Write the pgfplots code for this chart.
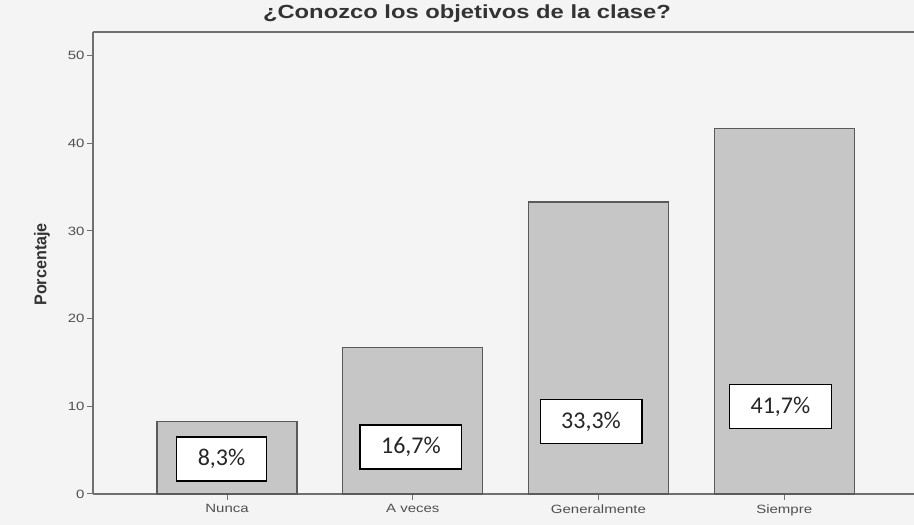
\documentclass[border=0pt]{standalone}
\usepackage{fontspec}
\setmainfont{Liberation Sans}
\newfontfamily\wide[FakeStretch=1.25]{Liberation Sans}
\newfontfamily\narrow[FakeStretch=0.95]{Liberation Sans}
\newfontfamily\carlito{Carlito}
\usepackage{pgfplots}
\pgfplotsset{compat=1.18}
\definecolor{bg}{HTML}{F4F4F4}
\definecolor{barfill}{HTML}{C6C6C6}
\definecolor{bardraw}{HTML}{5A5A5A}
\definecolor{axcol}{HTML}{707070}
\definecolor{txt}{HTML}{505050}
\begin{document}
\begin{tikzpicture}[x=1pt,y=1pt]
\useasboundingbox[fill=bg] (0,0) rectangle (914,525);
\begin{axis}[
  at={(93pt,31pt)}, anchor=south west,
  scale only axis, width=821pt, height=462pt,
  xmin=-0.722, xmax=3.699, ymin=0, ymax=52.7,
  axis x line*=bottom, axis y line*=left,
  axis line style={draw=axcol, line width=1.2pt},
  axis background/.style={fill=bg},
  xtick={0,1,2,3},
  xticklabels={Nunca, A veces, Generalmente, Siempre},
  ytick={0,10,20,30,40,50},
  tick align=outside, major tick length=6pt,
  tick style={draw=axcol, line width=1pt},
  yticklabel style={font=\wide\fontsize{12}{14}\selectfont, text=txt, xshift=1pt},
  xticklabel style={font=\wide\fontsize{12}{14}\selectfont, text=txt, yshift=-1pt},
  /pgf/number format/assume math mode=true,
  ylabel={Porcentaje},
  ylabel style={at={(axis description cs:0,0.497)}, anchor=center, yshift=51pt, font=\narrow\bfseries\fontsize{17}{19}\selectfont, text=black!80},
  title={¿Conozco los objetivos de la clase?},
  title style={at={(axis description cs:0.4555,1)}, anchor=base, yshift=7pt, font=\wide\bfseries\fontsize{19}{22}\selectfont, text=black!80},
  clip=false,
]
\addplot[ybar, bar shift=0pt, bar width=0.754, fill=barfill, draw=bardraw, line width=1.3pt]
  coordinates {(0,8.3) (1,16.7) (2,33.3) (3,41.7)};
\addplot[only marks, mark=none, nodes near coords, point meta=explicit symbolic,
  nodes near coords style={anchor=center, fill=white, draw=black, line width=1.4pt,
    font=\carlito\fontsize{24}{26}\selectfont, text=black!85, inner xsep=21pt, minimum height=44pt, inner ysep=0pt}]
  table[meta=label] {
x y label
-0.03 4.0 {8,3\%}
0.99 5.38 {16,7\%}
1.96 8.24 {33,3\%}
2.98 9.95 {41,7\%}
};
\draw[axcol, line width=1.2pt] (rel axis cs:0,1) -- (rel axis cs:1,1);
\end{axis}
\end{tikzpicture}
\end{document}
